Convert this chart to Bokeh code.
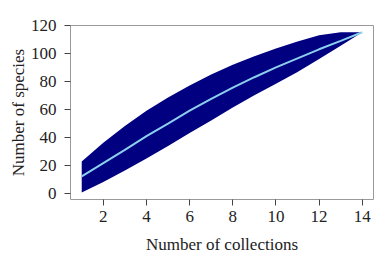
from bokeh.plotting import figure
from bokeh.models import Range1d, FixedTicker
from bokeh.embed import file_html
from bokeh.resources import INLINE

collections = [1, 2, 3, 4, 5, 6, 7, 8, 9, 10, 11, 12, 13, 14]
species_mean = [12, 21.5, 31, 40.8, 49.8, 59, 67.5, 75.5, 83, 90, 96.5, 103, 109, 115.2]
species_upper = [22.6, 36, 48, 59, 68.5, 77, 85, 92, 98, 103.5, 108.5, 113, 115.2, 115.2]
species_lower = [0.5, 8, 16.2, 24.8, 33.8, 43, 52, 61.3, 70, 78.3, 86.7, 96, 105.5, 115.2]
x_ticks = [2, 4, 6, 8, 10, 12, 14]
y_ticks = [0, 20, 40, 60, 80, 100, 120]

FONT = "Liberation Serif"
TXT = "#222222"

p = figure(width=379, height=256, output_backend="svg", toolbar_location=None,
           x_range=Range1d(0.48, 14.52), y_range=Range1d(-4.6, 120.05),
           min_border_left=70, min_border_right=6, min_border_top=25, min_border_bottom=57)
p.xgrid.visible = False
p.ygrid.visible = False
p.outline_line_color = "#999999"
p.outline_line_width = 1
p.background_fill_color = "white"
p.border_fill_color = "white"

p.varea(x=collections, y1=species_lower, y2=species_upper, fill_color="#000080", fill_alpha=1.0)
p.line(x=collections, y=species_mean, line_color="#8CCFEC", line_width=2)

for ax in (p.xaxis[0], p.yaxis[0]):
    ax.axis_line_color = None
    ax.major_tick_line_color = "#444444"
    ax.major_tick_out = 6
    ax.major_tick_in = 0
    ax.minor_tick_line_color = None
    ax.major_label_text_font = FONT
    ax.major_label_text_font_size = "17px"
    ax.major_label_text_color = TXT
    ax.axis_label_text_font = FONT
    ax.axis_label_text_font_size = "17px"
    ax.axis_label_text_font_style = "normal"
    ax.axis_label_text_color = TXT

p.xaxis[0].ticker = FixedTicker(ticks=x_ticks)
p.yaxis[0].ticker = FixedTicker(ticks=y_ticks)
p.xaxis[0].axis_label = "Number of collections"
p.yaxis[0].axis_label = "Number of species"
p.xaxis[0].major_label_standoff = 5
p.xaxis[0].axis_label_standoff = 10
p.yaxis[0].major_label_standoff = 8
p.yaxis[0].axis_label_standoff = 0
p.yaxis[0].major_label_orientation = "horizontal"

open("out.html", "w").write(file_html(p, INLINE))
